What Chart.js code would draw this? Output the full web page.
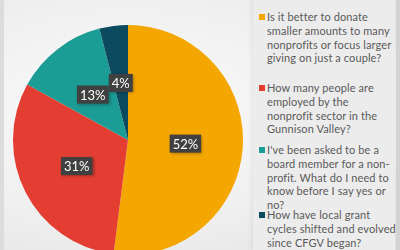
<!DOCTYPE html>
<html>
<head>
<meta charset="utf-8">
<script src="https://cdn.jsdelivr.net/npm/chart.js@4"></script>
<style>
  html, body { margin: 0; padding: 0; }
  body {
    width: 400px; height: 250px; overflow: hidden; position: relative;
    background: radial-gradient(ellipse at 130px 110px, #fbfbfb 0%, #f0f0f0 55%, #e2e2e2 100%);
    font-family: 'Lato', 'Noto Sans', sans-serif;
  }
  #leftEdge { position: absolute; left: 0; top: 0; width: 4px; height: 250px; background: #dcdcdc; }
  #chartBox { position: absolute; left: 13px; top: 0; width: 230px; height: 280px; }
  #legend {
    position: absolute; left: 253px; top: 0; width: 142px; height: 250px;
    background: #ececec; box-shadow: -2px 0 4px rgba(0,0,0,0.06);
  }
  #rightEdge { position: absolute; left: 396px; top: 0; width: 4px; height: 250px; background: #d3d3d3; }
  .item { position: absolute; left: 14px; font-size: 11px; letter-spacing: 0.1px; line-height: 13.8px; color: #5a5a5a; white-space: nowrap; }
  .sw { position: absolute; left: -8px; top: 4px; width: 6px; height: 6px; }
</style>
</head>
<body>
<div id="leftEdge"></div>
<div id="chartBox"><canvas id="pie"></canvas></div>
<div id="legend"></div>
<div id="rightEdge"></div>
<script>
// category labels, one entry per wrapped line
const questions = [
  ['Is it better to donate', 'smaller amounts to many', 'nonprofits or focus larger', 'giving on just a couple?'],
  ['How many people are', 'employed by the', 'nonprofit sector in the', 'Gunnison Valley?'],
  ["I've been asked to be a", 'board member for a non-', 'profit. What do I need to', 'know before I say yes or', 'no?'],
  ['How have local grant', 'cycles shifted and evolved', 'since CFGV began?']
];
const shares = [52, 31, 13, 4];
const sliceColors = ['#f4a700', '#e33e31', '#1b9c94', '#0c4a5f'];
const legendTops = [10, 81, 143, 208];

// percentage boxes drawn at each arc's center point
const labelBoxes = {
  id: 'labelBoxes',
  afterDatasetsDraw(chart) {
    const ctx = chart.ctx;
    const meta = chart.getDatasetMeta(0);
    ctx.save();
    ctx.font = '13px Lato, "Noto Sans", sans-serif';
    ctx.textAlign = 'center';
    ctx.textBaseline = 'middle';
    meta.data.forEach((arc, i) => {
      const p = arc.getCenterPoint();
      const txt = shares[i] + '%';
      const w = ctx.measureText(txt).width + 6;
      const h = 18;
      ctx.shadowColor = 'rgba(0,0,0,0.35)';
      ctx.shadowBlur = 3;
      ctx.shadowOffsetX = 1;
      ctx.shadowOffsetY = 1;
      ctx.fillStyle = '#404040';
      ctx.fillRect(p.x - w / 2, p.y - h / 2, w, h);
      ctx.shadowColor = 'transparent';
      ctx.fillStyle = '#ffffff';
      ctx.fillText(txt, p.x, p.y + 1);
    });
    ctx.restore();
  }
};

new Chart(document.getElementById('pie'), {
  type: 'pie',
  data: {
    labels: questions,
    datasets: [{
      data: shares,
      backgroundColor: sliceColors,
      borderWidth: 0
    }]
  },
  options: {
    responsive: true,
    maintainAspectRatio: false,
    animation: false,
    layout: { padding: 0 },
    plugins: {
      legend: { display: false },
      tooltip: { enabled: false }
    }
  },
  plugins: [labelBoxes]
});

const legend = document.getElementById('legend');
legend.innerHTML = questions.map((q, i) => `
  <div class="item" style="top:${legendTops[i]}px">
    <span class="sw" style="background:${sliceColors[i]}"></span>${q.join('<br>')}
  </div>`).join('');
</script>
</body>
</html>
